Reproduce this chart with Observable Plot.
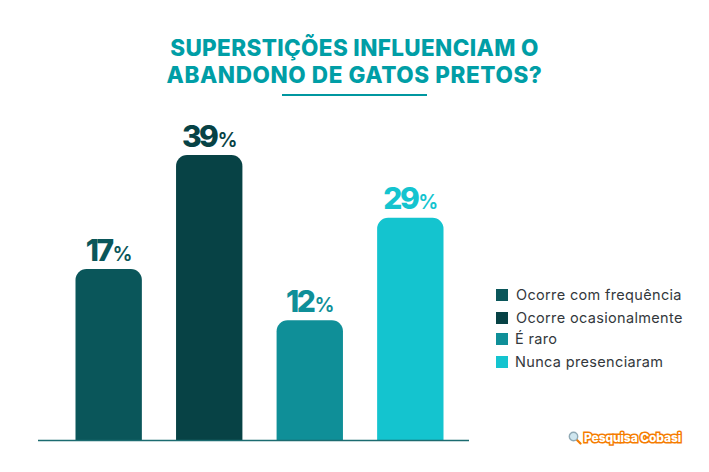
<!DOCTYPE html>
<html lang="pt">
<head>
<meta charset="utf-8">
<script src="https://cdn.jsdelivr.net/npm/d3@7"></script>
<script src="https://cdn.jsdelivr.net/npm/@observablehq/plot@0.6"></script>
<style>
  html, body { margin: 0; padding: 0; background: #fff; }
  #page { position: relative; width: 709px; height: 472px; overflow: hidden; font-family: Inter, sans-serif; }
  #title { position: absolute; left: 0; top: 34px; width: 709px; text-align: center; color: #009ea6;
           font-weight: 800; font-size: 22.5px; line-height: 27px; letter-spacing: 0.35px; }
  #title span { letter-spacing: 0.6px; }
  #rule { position: absolute; left: 282px; top: 94px; width: 145px; height: 2px; background: #0097a0; }
  #plot { position: absolute; left: 0; top: 0; }
  .lg { position: absolute; color: #33383c; font-size: 14.5px; line-height: 16px; white-space: nowrap; letter-spacing: .34px; }
  .sw { position: absolute; left: 496px; width: 12px; height: 12px; }
  #brand { position: absolute; left: 584px; top: 430px; font: 800 12px/15px Inter, sans-serif; color: #fff;
           white-space: nowrap; letter-spacing: -.1px; -webkit-text-stroke: 3px #f57c00; paint-order: stroke fill; }
  #lens { position: absolute; left: 568px; top: 431px; }
</style>
</head>
<body>
<div id="page">
  <div id="plot"></div>
  <div id="title">SUPERSTIÇÕES INFLUENCIAM O<br><span>ABANDONO DE GATOS PRETOS?</span></div>
  <div id="rule"></div>
  <div id="legend"></div>
  <svg id="lens" width="14" height="14" viewBox="0 0 14 14">
    <line x1="8" y1="8" x2="12.5" y2="12.5" stroke="#f57c00" stroke-width="2.2" stroke-linecap="round"/>
    <circle cx="5.5" cy="5.5" r="4.2" fill="#cfe6ef" stroke="#8fa9b5" stroke-width="1.4"/>
  </svg>
  <div id="brand">Pesquisa Cobasi</div>
</div>
<script>
const categories = ["Ocorre com frequência", "Ocorre ocasionalmente", "É raro", "Nunca presenciaram"];
// Printed percentages
const labels = [17, 39, 12, 29];
// Bar heights as drawn in the picture (the source's bars are not proportional to its labels)
const drawnHeights = [23.4, 39, 16.4, 30.4];
const colors = ["#0a565a", "#074245", "#0f8f98", "#14c4cf"];

const rows = categories.map((c, i) => ({category: c, label: labels[i], height: drawnHeights[i]}));

const chart = Plot.plot({
  width: 709,
  height: 472,
  marginLeft: 38,
  marginRight: 240,
  marginTop: 0,
  marginBottom: 32,
  style: {background: "transparent", overflow: "visible"},
  x: {domain: categories, range: [75.5, 443.5], round: false, paddingInner: 0.34, paddingOuter: 0, axis: null},
  y: {domain: [0, 39], range: [440, 155], axis: null},
  color: {domain: categories, range: colors},
  marks: [
    Plot.barY(rows, {x: "category", y: "height", fill: "category", ry1: 11, rx1y1: 11, rx2y1: 11}),
    Plot.ruleY([0], {stroke: "#1b6b70", strokeWidth: 1.6}),
    Plot.text(rows, {
      x: "category", y: "height", text: d => String(d.label), fill: "category",
      dy: -9, lineAnchor: "bottom", textAnchor: "middle",
      fontFamily: "Inter, sans-serif", fontWeight: 800, fontSize: 30
    })
  ]
});
document.getElementById("plot").append(chart);

// Smaller % sign beside each number, as real text
d3.select(chart).selectAll('g[aria-label="text"] text').each(function () {
  const t = d3.select(this);
  const v = t.text();
  t.text(null).style("letter-spacing", "-2.5px");
  t.append("tspan").text(v);
  t.append("tspan").text("%").attr("dx", 1).style("font-size", "20px").style("font-weight", 600).style("letter-spacing", "0");
});

const legendTops = [289, 312, 333, 356];
const legendLefts = [516, 516, 515, 515];
const legend = document.getElementById("legend");
categories.forEach((c, i) => {
  const sw = document.createElement("div");
  sw.className = "sw";
  sw.style.top = legendTops[i] + "px";
  sw.style.background = colors[i];
  const tx = document.createElement("div");
  tx.className = "lg";
  tx.style.left = legendLefts[i] + "px";
  tx.style.top = (legendTops[i] - 2) + "px";
  tx.textContent = c;
  legend.append(sw, tx);
});
</script>
</body>
</html>
